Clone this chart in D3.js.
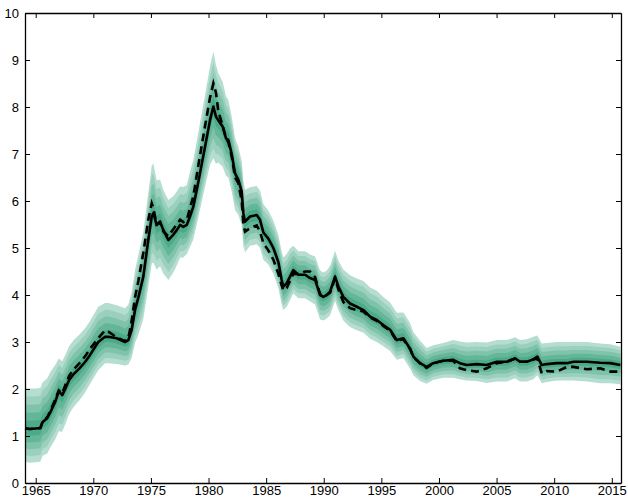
<!DOCTYPE html>
<html><head><meta charset="utf-8">
<script src="https://cdn.jsdelivr.net/npm/d3@7"></script>
<style>
body{margin:0;background:#fff}
svg{display:block}
text{font-family:"Liberation Sans",Arial,sans-serif;font-size:13px;fill:#000}
</style>
</head><body>
<svg id="chart" width="628" height="500"></svg>
<script>
const years=[1964.07,1964.5,1965.0,1965.4,1965.6,1966.0,1966.3,1966.7,1967.0,1967.3,1967.6,1967.9,1968.3,1968.8,1969.3,1969.7,1970.43,1971.02,1971.3,1972.03,1972.75,1973.04,1973.33,1973.62,1973.91,1974.34,1974.77,1975.07,1975.21,1975.5,1975.79,1976.08,1976.51,1976.94,1977.24,1977.53,1977.81,1978.11,1978.39,1978.68,1979.11,1979.7,1980.13,1980.42,1980.65,1980.85,1981.23,1981.52,1981.72,1982.01,1982.3,1982.59,1982.88,1983.02,1983.17,1983.6,1984.18,1984.47,1984.76,1985.19,1985.63,1986.06,1986.35,1986.49,1986.79,1987.07,1987.36,1987.8,1988.38,1988.81,1989.25,1989.68,1989.97,1990.26,1990.55,1990.98,1991.27,1991.7,1992.28,1992.87,1993.44,1994.02,1994.6,1995.17,1995.76,1996.34,1996.91,1997.2,1997.5,1997.78,1998.35,1998.93,1999.5,2000.37,2001.24,2001.82,2002.4,2003.28,2004.15,2005.02,2005.89,2006.61,2007.04,2007.62,2008.19,2008.54,2008.92,2009.36,2010.23,2011.1,2011.68,2012.84,2014.0,2014.87,2015.74];
const median=[1.16,1.15,1.16,1.17,1.30,1.38,1.52,1.73,1.95,1.87,2.02,2.19,2.32,2.44,2.58,2.72,3.00,3.11,3.11,3.08,3.00,3.04,3.26,3.68,3.95,4.39,5.17,5.67,5.74,5.49,5.56,5.38,5.17,5.28,5.38,5.49,5.45,5.49,5.67,5.88,6.40,7.16,7.72,8.01,7.79,7.72,7.58,7.33,7.30,7.00,6.59,6.45,6.20,5.74,5.56,5.67,5.70,5.60,5.33,5.20,5.00,4.70,4.32,4.18,4.25,4.39,4.53,4.43,4.43,4.36,4.32,4.00,3.96,4.00,4.07,4.39,4.18,3.96,3.82,3.75,3.68,3.54,3.47,3.36,3.26,3.04,3.08,2.97,2.85,2.69,2.55,2.47,2.55,2.60,2.62,2.55,2.51,2.53,2.51,2.58,2.58,2.65,2.58,2.58,2.63,2.69,2.51,2.53,2.55,2.55,2.58,2.58,2.56,2.55,2.51];
const alternative=[1.16,1.15,1.16,1.17,1.30,1.40,1.55,1.78,1.97,1.90,2.10,2.28,2.42,2.55,2.70,2.85,3.08,3.25,3.22,3.10,3.02,3.08,3.45,3.95,4.30,4.90,5.60,5.95,5.85,5.50,5.55,5.35,5.25,5.40,5.50,5.60,5.55,5.60,5.85,6.10,6.75,7.60,8.20,8.50,8.30,7.90,7.60,7.33,7.25,6.95,6.50,6.38,6.00,5.50,5.35,5.42,5.48,5.35,5.10,4.95,4.75,4.45,4.20,4.10,4.15,4.30,4.45,4.45,4.50,4.50,4.38,4.02,3.96,4.00,4.05,4.35,4.12,3.85,3.72,3.68,3.65,3.52,3.45,3.34,3.24,3.02,3.06,2.95,2.85,2.68,2.55,2.45,2.55,2.60,2.60,2.44,2.40,2.37,2.44,2.55,2.58,2.65,2.58,2.58,2.63,2.65,2.33,2.38,2.37,2.47,2.47,2.42,2.44,2.37,2.37];
const bandUp=[.86,.86,.85,.85,.84,.85,.85,.78,.70,.72,.72,.72,.72,.72,.72,.72,.75,.72,.72,.70,.72,.75,.80,.85,.90,.95,1.00,1.08,1.06,.95,.90,.85,.85,.82,.82,.82,.85,.85,.95,1.00,1.05,1.10,1.15,1.17,1.10,1.00,.95,.90,.85,.80,.75,.70,.65,.70,.68,.62,.62,.62,.60,.60,.58,.58,.60,.62,.62,.60,.52,.50,.50,.50,.50,.52,.52,.52,.55,.55,.55,.58,.60,.60,.62,.62,.62,.60,.58,.58,.55,.55,.55,.52,.48,.40,.38,.38,.42,.46,.48,.47,.48,.46,.46,.45,.46,.48,.48,.45,.46,.45,.45,.45,.42,.42,.41,.40,.39];
const bandDown=[.71,.72,.72,.72,.72,.75,.75,.80,.85,.78,.75,.72,.70,.68,.65,.62,.60,.56,.56,.55,.50,.52,.60,.70,.80,.90,1.00,1.00,1.05,.95,.95,.92,.85,.80,.75,.70,.65,.62,.65,.70,.75,.85,.95,1.10,1.00,.90,.85,.80,.80,.80,.78,.75,.72,.70,.65,.62,.62,.60,.58,.55,.55,.55,.52,.50,.50,.50,.50,.50,.50,.50,.52,.52,.50,.50,.50,.52,.50,.50,.50,.50,.48,.47,.47,.45,.45,.42,.42,.42,.42,.40,.38,.36,.36,.36,.38,.34,.33,.36,.38,.42,.42,.42,.42,.42,.42,.40,.39,.38,.37,.37,.40,.42,.44,.43,.41];
const fanLevels=[1,0.8,0.6,0.4,0.2];
const fanColors=["#b6ddd1","#9ad0bd","#7fc3ab","#64b698","#4baa88"];
const xTicks=[1965,1970,1975,1980,1985,1990,1995,2000,2005,2010,2015];
const yTicks=[0,1,2,3,4,5,6,7,8,9,10];

const svg=d3.select("#chart");
const L=25,R=621,T=13,B=483;
const x=d3.scaleLinear().domain([1964.07,2015.8]).range([L,R]);
const y=d3.scaleLinear().domain([0,10]).range([B,T]);

const data=years.map((yr,i)=>({yr,m:median[i],a:alternative[i],up:bandUp[i],dn:bandDown[i]}));

const g=svg.append("g");
fanLevels.forEach((f,k)=>{
  const area=d3.area().x(d=>x(d.yr)).y0(d=>y(d.m-d.dn*f)).y1(d=>y(d.m+d.up*f));
  g.append("path").datum(data).attr("d",area).attr("fill",fanColors[k]).attr("stroke","none");
});

g.append("path").datum(data)
  .attr("d",d3.line().x(d=>x(d.yr)).y(d=>y(d.a)))
  .attr("fill","none").attr("stroke","#000").attr("stroke-width",2.6)
  .attr("stroke-dasharray","8,5");
g.append("path").datum(data)
  .attr("d",d3.line().x(d=>x(d.yr)).y(d=>y(d.m)))
  .attr("fill","none").attr("stroke","#000").attr("stroke-width",2.6)
  .attr("stroke-linejoin","round");

const tl=5;
const axBottom=svg.append("g").attr("transform",`translate(0,${B})`)
  .call(d3.axisBottom(x).tickValues(xTicks).tickFormat(d3.format("d")).tickSizeInner(-tl).tickSizeOuter(0).tickPadding(3));
const axTop=svg.append("g").attr("transform",`translate(0,${T})`)
  .call(d3.axisTop(x).tickValues(xTicks).tickFormat("").tickSizeInner(-tl).tickSizeOuter(0));
const axLeft=svg.append("g").attr("transform",`translate(${L},0)`)
  .call(d3.axisLeft(y).tickValues(yTicks).tickFormat(d3.format("d")).tickSizeInner(-tl).tickSizeOuter(0).tickPadding(6));
const axRight=svg.append("g").attr("transform",`translate(${R},0)`)
  .call(d3.axisRight(y).tickValues(yTicks).tickFormat("").tickSizeInner(-tl).tickSizeOuter(0));
[axBottom,axTop,axLeft,axRight].forEach(a=>{
  a.selectAll(".domain").attr("stroke","#000").attr("stroke-width",1.3);
  a.selectAll(".tick line").attr("stroke","#000").attr("stroke-width",1);
  a.selectAll("text").attr("font-size",13).attr("font-family","Liberation Sans, Arial, sans-serif");
});
</script>
</body></html>
